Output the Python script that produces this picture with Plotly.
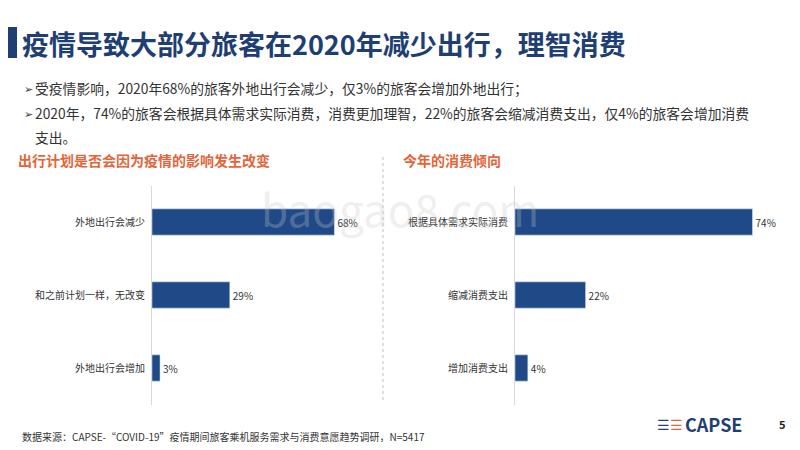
import plotly.graph_objects as go

left_cats = ["外地出行会减少", "和之前计划一样，无改变", "外地出行会增加"]
left_vals = [68, 29, 3]
right_cats = ["根据具体需求实际消费", "缩减消费支出", "增加消费支出"]
right_vals = [74, 22, 4]

bar_color = "#1f4a87"
navy = "#1f3f73"
orange = "#e4643a"
font = "Noto Sans CJK SC"

# page has an 8px body margin, so map page pixels into the figure
W, H, OFF = 784, 434, 8
def px(x):
    return (x - OFF) / W
def py(y):
    return 1 - (y - OFF) / H

fig = go.Figure()
fig.add_trace(go.Bar(y=left_cats, x=left_vals, orientation="h", marker_color=bar_color, width=0.36,
                     text=[f"{v}%" for v in left_vals], textposition="outside", cliponaxis=False,
                     textfont=dict(size=10, color="#333"), xaxis="x", yaxis="y"))
fig.add_trace(go.Bar(y=right_cats, x=right_vals, orientation="h", marker_color=bar_color, width=0.36,
                     text=[f"{v}%" for v in right_vals], textposition="outside", cliponaxis=False,
                     textfont=dict(size=10, color="#333"), xaxis="x2", yaxis="y2"))

ax = dict(showgrid=False, showticklabels=False, zeroline=False, fixedrange=True)
cat = dict(autorange="reversed", showgrid=False, showline=True, linecolor="#d9d9d9", linewidth=1,
           ticks="", ticklabelstandoff=4, tickfont=dict(size=10, color="#333"))
ydom = [py(404.5), py(185.5)]
fig.update_layout(
    width=W, height=H, margin=dict(l=0, r=0, t=0, b=0),
    paper_bgcolor="white", plot_bgcolor="white", showlegend=False,
    font=dict(family=font, color="#333"),
    xaxis=dict(domain=[px(152), px(372)], range=[0, 82], **ax),
    yaxis=dict(domain=ydom, anchor="x", **cat),
    xaxis2=dict(domain=[px(515), px(775)], range=[0, 81], anchor="y2", **ax),
    yaxis2=dict(domain=ydom, anchor="x2", **cat),
)

# header bar and divider
fig.add_shape(type="rect", xref="paper", yref="paper", x0=0, x1=px(17), y0=py(58), y1=py(27),
              fillcolor=navy, line_width=0)
fig.add_shape(type="line", xref="paper", yref="paper", x0=px(383), x1=px(383), y0=py(400), y1=py(155),
              line=dict(color="#bfbfbf", width=1, dash="dot"))

def txt(x, y, s, size, color="#333", bold=False, anchor="left"):
    fig.add_annotation(xref="paper", yref="paper", x=px(x), y=py(y), text=f"<b>{s}</b>" if bold else s,
                       showarrow=False, xanchor=anchor, yanchor="middle",
                       font=dict(size=size, color=color, family=font))

txt(20, 43, "疫情导致大部分旅客在2020年减少出行，理智消费", 27, navy, True)
txt(22, 88, "➢", 11)
txt(33, 88, "受疫情影响，2020年68%的旅客外地出行会减少，仅3%的旅客会增加外地出行；", 13.8)
txt(22, 113, "➢", 11)
txt(33, 113, "2020年，74%的旅客会根据具体需求实际消费，消费更加理智，22%的旅客会缩减消费支出，仅4%的旅客会增加消费", 13.8)
txt(33, 137, "支出。", 13.8)
txt(16, 160, "出行计划是否会因为疫情的影响发生改变", 14, orange, True)
txt(401, 160, "今年的消费倾向", 14, orange, True)
txt(400, 208, "baogao8.com", 44, "rgba(200,200,200,0.3)", anchor="center")
txt(20, 436, "数据来源：CAPSE-“COVID-19”疫情期间旅客乘机服务需求与消费意愿趋势调研，N=5417", 10)
txt(655, 424, "<span style='color:#1f3f73'>☰</span><span style='color:#e4643a'>☰</span>", 14)
txt(683, 424, "CAPSE", 18, navy, True)
txt(777, 424, "5", 11, "#222", True)

fig.write_html("out.html")
